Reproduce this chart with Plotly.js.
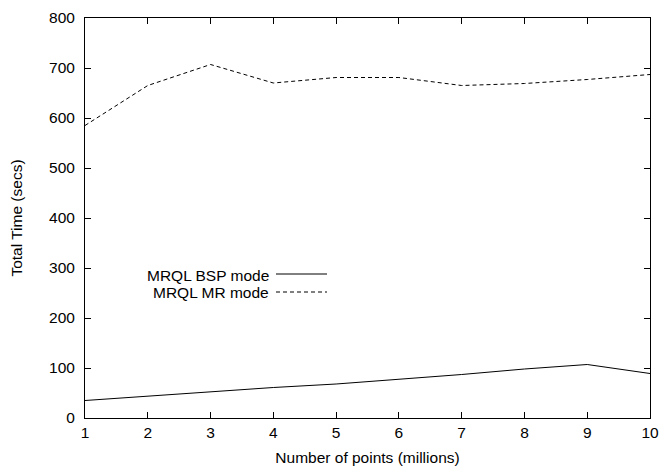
<!DOCTYPE html>
<html>
<head>
<meta charset="utf-8">
<script src="https://cdn.plot.ly/plotly-3.0.1.min.js"></script>
<style>html,body{margin:0;padding:0;background:#fff;}#chart{width:662px;height:466px;}</style>
</head>
<body>
<div id="chart"></div>
<script>
const points = [1, 2, 3, 4, 5, 6, 7, 8, 9, 10];
const bspTime = [35, 44, 53, 61, 68, 77, 87, 98, 107, 89];
const mrTime = [585, 665, 707, 670, 681, 681, 665, 669, 677, 687];
const seriesNames = ["MRQL BSP mode", "MRQL MR mode"];

const font = {family: "Liberation Sans, Arial, sans-serif", size: 15.5, color: "#000"};

const L = 85, R = 650, T = 18, B = 418;
const W = R - L, H = B - T;
const px = v => (v - L) / W;
const py = v => (B - v) / H;

const traces = [
  {x: points, y: bspTime, type: "scatter", mode: "lines", name: seriesNames[0],
   line: {color: "#000", width: 1}},
  {x: points, y: mrTime, type: "scatter", mode: "lines", name: seriesNames[1],
   line: {color: "#000", width: 1, dash: "4px,3px"}}
];

const layout = {
  width: 662, height: 466,
  margin: {l: L, r: 662 - R, t: T, b: 466 - B},
  paper_bgcolor: "#fff", plot_bgcolor: "#fff",
  showlegend: false,
  font: font,
  xaxis: {
    range: [1, 10], tickvals: points, ticks: "inside", ticklen: 6, tickcolor: "#000",
    mirror: "allticks", showline: true, linecolor: "#000", linewidth: 1,
    showgrid: false, zeroline: false, tickfont: font, automargin: false,
    title: {text: "Number of points (millions)", font: font, standoff: 14}
  },
  yaxis: {
    range: [0, 800], dtick: 100, ticks: "inside", ticklen: 6, tickcolor: "#000",
    mirror: "allticks", showline: true, linecolor: "#000", linewidth: 1,
    showgrid: false, zeroline: false, tickfont: font, ticklabelstandoff: 6, automargin: false,
    title: {text: "Total Time (secs)", font: font, standoff: 22}
  },
  annotations: [
    {xref: "paper", yref: "paper", x: px(271), y: py(275),
     xanchor: "right", yanchor: "middle", text: seriesNames[0], showarrow: false, font: font},
    {xref: "paper", yref: "paper", x: px(271), y: py(292),
     xanchor: "right", yanchor: "middle", text: seriesNames[1], showarrow: false, font: font}
  ],
  shapes: [
    {type: "line", xref: "paper", yref: "paper", x0: px(276), x1: px(327),
     y0: py(274), y1: py(274), line: {color: "#000", width: 1}},
    {type: "line", xref: "paper", yref: "paper", x0: px(276), x1: px(327),
     y0: py(292), y1: py(292), line: {color: "#000", width: 1, dash: "4px,3px"}}
  ]
};

Plotly.newPlot("chart", traces, layout, {displayModeBar: false, staticPlot: true});
</script>
</body>
</html>
